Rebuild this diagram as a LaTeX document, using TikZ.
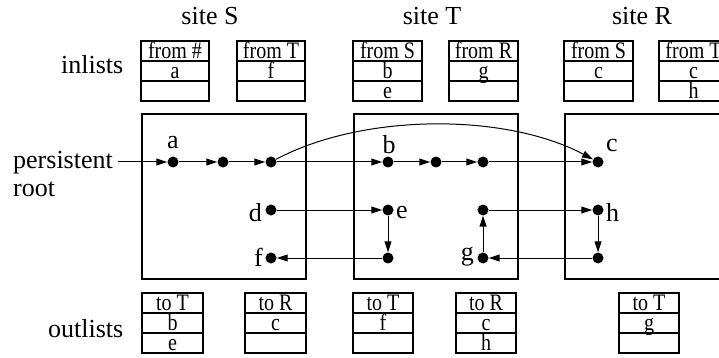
\documentclass[tikz,border=0pt]{standalone}
\usepackage{fontspec}
\setmainfont{Liberation Serif}
\usetikzlibrary{arrows.meta}
\newcommand{\tabtxt}[1]{\scalebox{1}[1.18]{#1}}
\tikzset{
  sitebox/.style={draw, line width=2.4pt},
  dot/.style={circle, fill, inner sep=0pt, minimum size=11pt},
  lbl/.style={font=\fontsize{26}{26}\selectfont, inner sep=0pt},
  cell/.style={font=\fontsize{20}{20}\selectfont, inner sep=0pt, anchor=base},
  tbl/.style={line width=1.3pt},
  arr/.style={line width=1pt, -{Triangle[length=11pt,width=7pt]}},
}
\newcommand{\tablist}[7]{%
  \pgfmathsetmacro{\ya}{#4+20}\pgfmathsetmacro{\yb}{#4+40}%
  \pgfmathsetmacro{\yc}{#4+60}\pgfmathsetmacro{\xm}{(#2+#3)/2}%
  \draw[tbl] (#2,#4) rectangle (#3,\yc);
  \draw[tbl] (#2,\ya) -- (#3,\ya) (#2,\yb) -- (#3,\yb);
  \node[cell] (#1h) at (\xm,\ya-2.5) {\tabtxt{#5}};
  \node[cell] (#1a) at (\xm,\yb-2.5) {\tabtxt{#6}};
  \node[cell] (#1b) at (\xm,\yc-2.5) {\tabtxt{#7}};
}
\begin{document}
\begin{tikzpicture}[x=1pt,y=-1pt]
\useasboundingbox (0,0) rectangle (719,358);
% site titles
\node[lbl, anchor=base] (tS) at (210,25) {site S};
\node[lbl, anchor=base] (tT) at (432,25) {site T};
\node[lbl, anchor=base] (tR) at (642,25) {site R};
\node[lbl, anchor=base west] (inl) at (61,74) {inlists};
\node[lbl, anchor=base west] (outl) at (48,337) {outlists};
% inlists
\tablist{iSa}{141}{209}{41}{from \#}{a}{}
\tablist{iSb}{237}{305}{41}{from T}{f}{}
\tablist{iTa}{353}{422}{41}{from S}{b}{e}
\tablist{iTb}{449}{518}{41}{from R}{g}{}
\tablist{iRa}{564}{633}{41}{from S}{c}{}
\tablist{iRb}{659}{728}{41}{from T}{c}{h}
% outlists
\tablist{oSa}{142}{203}{293}{to T}{b}{e}
\tablist{oSb}{245}{306}{293}{to R}{c}{}
\tablist{oTa}{353}{413}{293}{to T}{f}{}
\tablist{oTb}{456}{516}{293}{to R}{c}{h}
\tablist{oRa}{619}{679}{293}{to T}{g}{}
% site boxes
\draw[sitebox] (142,114) rectangle (306,279);
\draw[sitebox] (354,114) rectangle (518,279);
\draw[sitebox] (565,114) rectangle (735,279);
% persistent root
\node[lbl, anchor=base west] (pers) at (13,168) {persistent};
\node[lbl, anchor=base west] (root) at (13,196) {root};
\coordinate (pstart) at (118,162);
% dots
\node[dot] (a) at (173,162) {};
\node[dot] (s2) at (223,162) {};
\node[dot] (s3) at (271,162) {};
\node[dot] (b) at (388,162) {};
\node[dot] (t2) at (436,162) {};
\node[dot] (t3) at (483,162) {};
\node[dot] (c) at (598,162) {};
\node[dot] (d) at (271,210) {};
\node[dot] (e) at (388,210) {};
\node[dot] (gu) at (483,210) {};
\node[dot] (h) at (598,210) {};
\node[dot] (f) at (271,258) {};
\node[dot] (e2) at (388,258) {};
\node[dot] (g) at (483,258) {};
\node[dot] (h2) at (598,258) {};
% dot labels
\node[lbl] (la) at (173,143) {a};
\node[lbl] (lb) at (389,145) {b};
\node[lbl] (lc) at (612,146) {c};
\node[lbl, anchor=east] (ld) at (262,213) {d};
\node[lbl, anchor=west] (le) at (396,213) {e};
\node[lbl, anchor=west] (lh) at (606,212) {h};
\node[lbl, anchor=east] (lf) at (263,257) {f};
\node[lbl, anchor=east] (lg) at (474,257) {g};
% connectors
\draw[arr] (pstart) -- (a);
\draw[arr] (a) -- (s2);
\draw[arr] (s2) -- (s3);
\draw[arr] (s3) -- (b);
\draw[arr] (b) -- (t2);
\draw[arr] (t2) -- (t3);
\draw[arr] (t3) -- (c);
\draw[arr] (s3) to[out=28,in=152,looseness=0.8] (c);
\draw[arr] (d) -- (e);
\draw[arr] (e) -- (e2);
\draw[arr] (e2) -- (f);
\draw[arr] (g) -- (gu);
\draw[arr] (gu) -- (h);
\draw[arr] (h) -- (h2);
\draw[arr] (h2) -- (g);
\end{tikzpicture}
\end{document}
